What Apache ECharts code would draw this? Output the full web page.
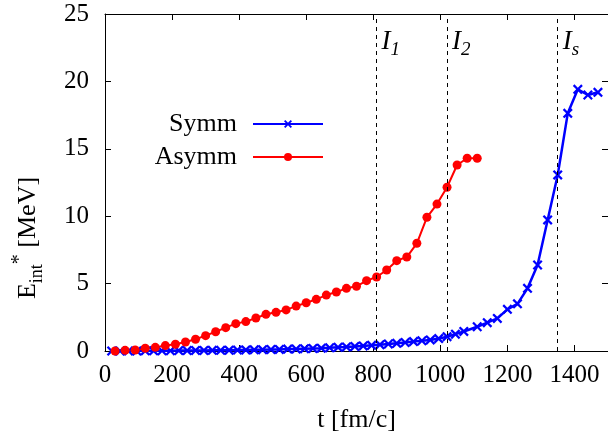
<!DOCTYPE html>
<html><head><meta charset="utf-8">
<script src="https://cdn.jsdelivr.net/npm/echarts@6/dist/echarts.min.js"></script>
<style>html,body{margin:0;padding:0;background:#fff}#c{width:608px;height:438px}</style>
</head><body><div id="c"></div>
<script>
// ---- data ----
const symmT = [20,45,70,95,120,145,170,195,220,245,270,295,320,345,370,395,420,445,470,495,520,545,570,595,620,645,670,695,720,745,770,795,820,845,870,895,920,945,970,995,1020,1045,1070,1110,1140,1170,1200,1230,1260,1290,1320,1350,1380,1410,1440,1470];
const symmE = [0,0,0,0,0.01,0.01,0.02,0.02,0.03,0.03,0.04,0.04,0.05,0.05,0.06,0.07,0.08,0.09,0.1,0.11,0.12,0.14,0.15,0.17,0.19,0.21,0.24,0.27,0.3,0.34,0.38,0.42,0.47,0.52,0.57,0.63,0.7,0.76,0.82,0.92,1.06,1.25,1.45,1.8,2.1,2.42,3.09,3.5,4.65,6.38,9.72,13.06,17.63,19.41,18.99,19.19];
const asymT = [30,60,90,120,150,180,210,240,270,300,330,360,390,420,450,480,510,540,570,600,630,660,690,720,750,780,810,840,870,900,930,960,990,1020,1050,1080,1110];
const asymE = [0,0.05,0.07,0.2,0.27,0.4,0.5,0.67,0.87,1.14,1.43,1.73,2.03,2.18,2.45,2.72,2.87,3.05,3.33,3.58,3.83,4.15,4.38,4.65,4.8,5.22,5.49,6.01,6.7,6.97,7.99,9.92,10.9,12.15,13.8,14.3,14.3];
const seriesNames = ['Symm','Asymm'];
const xTickLabels = [0,200,400,600,800,1000,1200,1400];
const yTickLabels = [0,5,10,15,20,25];
const instantT = [810,1020,1350];
const instantSub = ['1','2','s'];
const xTitle = 't [fm/c]';

// ---- chart ----
const FONT = '"Liberation Serif", "Times New Roman", serif';
const chart = echarts.init(document.getElementById('c'), null, {renderer:'canvas'});
const crossPath = 'path://M0,1.6L1.6,0L5,3.4L8.4,0L10,1.6L6.6,5L10,8.4L8.4,10L5,6.6L1.6,10L0,8.4L3.4,5Z';
const zip = (a,b) => a.map((v,i)=>[v,b[i]]);
const frameAxis = {
  axisLine:{show:true,onZero:false,lineStyle:{color:'#000',width:1}},
  axisTick:{show:true,inside:true,length:6,lineStyle:{color:'#000',width:1}},
  splitLine:{show:false}
};
chart.setOption({
  animation:false,
  backgroundColor:'#fff',
  grid:{left:105,top:14,width:504,height:337,containLabel:false},
  legend:{
    orient:'vertical', left:147, top:111, padding:0, itemGap:7,
    align:'right', itemWidth:70, itemHeight:10,
    data:seriesNames,
    textStyle:{fontFamily:FONT,fontSize:26,color:'#000',width:90,lineHeight:26,padding:[0,11,0,0]}
  },
  xAxis:[
    Object.assign({type:'value',position:'bottom',min:0,max:1500,interval:200,
      axisLabel:{fontFamily:FONT,fontSize:25,color:'#000',margin:12,showMaxLabel:false,
        formatter:v=>xTickLabels.indexOf(v)>=0?String(v):''},
      name:xTitle,nameLocation:'middle',nameGap:56,
      nameTextStyle:{fontFamily:FONT,fontSize:26,color:'#000'}},frameAxis),
    Object.assign({type:'value',position:'top',min:0,max:1500,interval:200,axisLabel:{show:false}},frameAxis)
  ],
  yAxis:[
    Object.assign({type:'value',position:'left',min:0,max:25,interval:5,
      axisLabel:{fontFamily:FONT,fontSize:25,color:'#000',margin:16,
        formatter:v=>yTickLabels.indexOf(v)>=0?String(v):''}},frameAxis),
    Object.assign({type:'value',position:'right',min:0,max:25,interval:5,axisLabel:{show:false}},frameAxis)
  ],
  series:[
    {name:seriesNames[0],type:'line',data:zip(symmT,symmE),showAllSymbol:true,
      symbol:crossPath,symbolSize:10,
      lineStyle:{color:'#0000ff',width:2.5},itemStyle:{color:'#0000ff'},
      markLine:{silent:true,symbol:['none','none'],label:{show:false},
        lineStyle:{type:[4,4],color:'#000',width:1},
        data:instantT.map(t=>({xAxis:t}))}},
    {name:seriesNames[1],type:'line',data:zip(asymT,asymE),showAllSymbol:true,
      symbol:'circle',symbolSize:9,
      lineStyle:{color:'#ff0000',width:2},itemStyle:{color:'#ff0000'}}
  ]
});
const g = [];
instantT.forEach((t,i)=>{
  const px = chart.convertToPixel({xAxisIndex:0}, t);
  g.push({type:'text',x:px+5,y:25,style:{
    text:'{I|I}{s|'+instantSub[i]+'}',
    rich:{I:{fontFamily:FONT,fontStyle:'italic',fontSize:27,lineHeight:34,fill:'#000',verticalAlign:'middle'},
          s:{fontFamily:FONT,fontStyle:'italic',fontSize:19,lineHeight:22,fill:'#000',verticalAlign:'bottom'}},
    align:'left',verticalAlign:'top'}});
});
g.push({type:'text',x:28,y:238,rotation:Math.PI/2,style:{
  text:'{E|E}{sub|int}{sup|*}{n| [MeV]}',
  rich:{E:{fontFamily:FONT,fontSize:26,lineHeight:36,fill:'#000',verticalAlign:'middle'},
        sub:{fontFamily:FONT,fontSize:18,lineHeight:20,fill:'#000',verticalAlign:'bottom'},
        sup:{fontFamily:FONT,fontSize:20,lineHeight:20,fill:'#000',verticalAlign:'top'},
        n:{fontFamily:FONT,fontSize:26,lineHeight:36,fill:'#000',verticalAlign:'middle'}},
  align:'center',verticalAlign:'middle'}});
chart.setOption({graphic:g});
</script></body></html>
